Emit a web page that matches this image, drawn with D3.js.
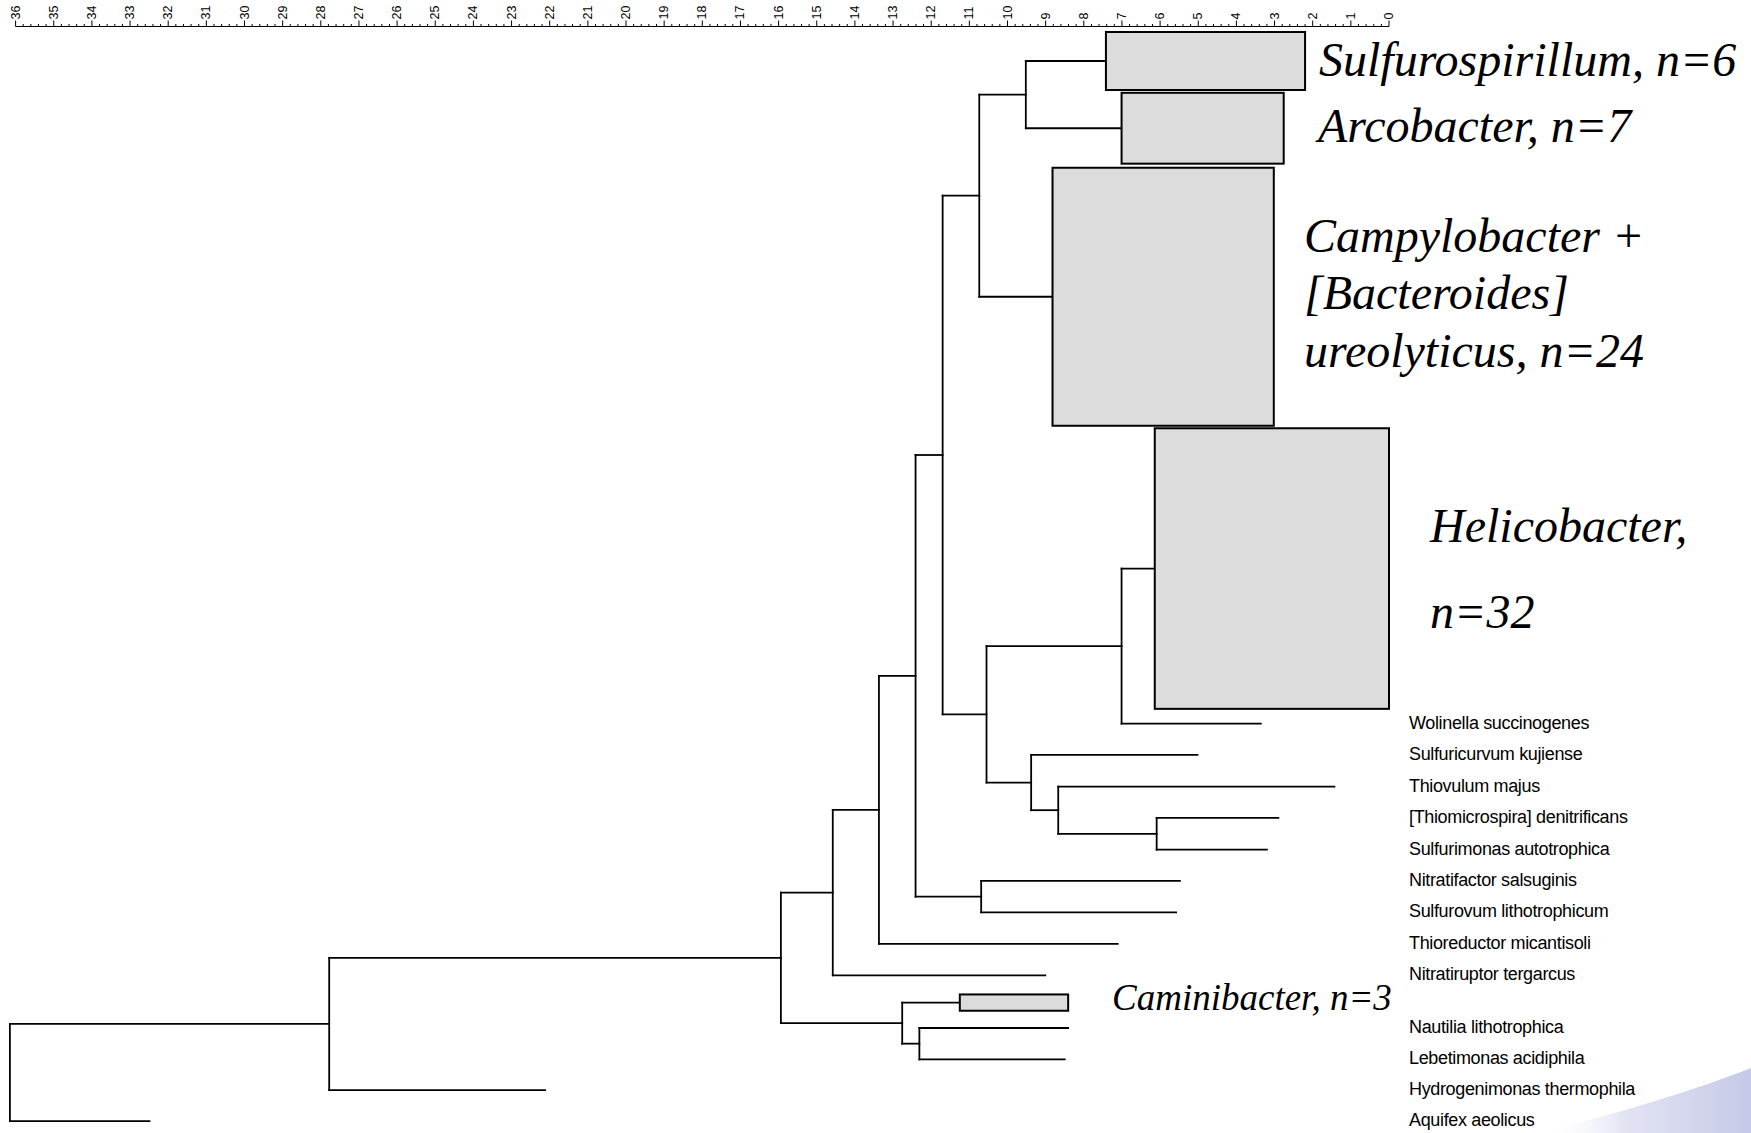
<!DOCTYPE html>
<html><head><meta charset="utf-8">
<script src="https://cdn.jsdelivr.net/npm/d3@7"></script>
<style>body{margin:0;background:#fff}svg{display:block}</style>
</head><body>
<svg id="chart" width="1751" height="1133"></svg>
<script>
// ---------------- data ----------------
const leafNames = ["Sulfurospirillum","Arcobacter","Campylobacter","Helicobacter",
  "Wolinella succinogenes","Sulfuricurvum kujiense","Thiovulum majus","[Thiomicrospira] denitrificans",
  "Sulfurimonas autotrophica","Nitratifactor salsuginis","Sulfurovum lithotrophicum","Thioreductor micantisoli",
  "Nitratiruptor tergarcus","Caminibacter","Nautilia lithotrophica","Lebetimonas acidiphila",
  "Hydrogenimonas thermophila","Aquifex aeolicus"];
// tip (right end) of each leaf / collapsed clade, in axis units
const leafEnd = [2.20, 2.76, 3.02, 0.00, 3.36, 5.02, 1.43, 2.90, 3.20, 5.48, 5.58, 7.11, 9.01, 8.41, 8.41, 8.50, 22.12, 32.49];
// crown depth of collapsed clades (null = single taxon)
const cladeStart = [7.42, 7.01, 8.82, 6.14, null, null, null, null, null, null, null, null, null, 11.25, null, null, null, null];
// vertical extent of each tip, in row units
const leafRowTop    = [0.00, 1.94, 4.33, 12.64, 22.06, 23.06, 24.07, 25.07, 26.08, 27.08, 28.08, 29.09, 30.09, 30.70, 31.77, 32.77, 33.75, 34.74];
const leafRowBottom = [1.85, 4.20, 12.56, 21.59, 22.06, 23.06, 24.07, 25.07, 26.08, 27.08, 28.08, 29.09, 30.09, 31.22, 31.77, 32.77, 33.75, 34.74];
// internal nodes
const nodeNames   = ["root","n1","n2","n3","n4","n5","n6","n7","n8","n9","n10","n11","n12","n13","n14","n15","n16"];
const nodeHeights = [36.15, 27.78, 15.94, 14.58, 13.37, 12.41, 11.70, 10.74, 9.52, 10.55, 7.01, 9.38, 8.67, 6.09, 10.69, 12.76, 12.31];
const nodeChildren = [
  ["n1","Aquifex aeolicus"],
  ["n2","Hydrogenimonas thermophila"],
  ["n3","n15"],
  ["n4","Nitratiruptor tergarcus"],
  ["n5","Thioreductor micantisoli"],
  ["n6","n14"],
  ["n7","n9"],
  ["n8","Campylobacter"],
  ["Sulfurospirillum","Arcobacter"],
  ["n10","n11"],
  ["Helicobacter","Wolinella succinogenes"],
  ["Sulfuricurvum kujiense","n12"],
  ["Thiovulum majus","n13"],
  ["[Thiomicrospira] denitrificans","Sulfurimonas autotrophica"],
  ["Nitratifactor salsuginis","Sulfurovum lithotrophicum"],
  ["Caminibacter","n16"],
  ["Nautilia lithotrophica","Lebetimonas acidiphila"]
];
const cladeLabelText = {
  "Sulfurospirillum": ["Sulfurospirillum, n=6"],
  "Arcobacter": ["Arcobacter, n=7"],
  "Campylobacter": ["Campylobacter +","[Bacteroides]","ureolyticus, n=24"],
  "Helicobacter": ["Helicobacter,","n=32"],
  "Caminibacter": ["Caminibacter, n=3"]
};
const axisTicks = [36,35,34,33,32,31,30,29,28,27,26,25,24,23,22,21,20,19,18,17,16,15,14,13,12,11,10,9,8,7,6,5,4,3,2,1,0];

// ---------------- layout / style ----------------
const cladeLabelPos = {
  "Sulfurospirillum": {x:1319, y:[76], size:48},
  "Arcobacter": {x:1318, y:[142], size:48},
  "Campylobacter": {x:1304, y:[252,309,367], size:48},
  "Helicobacter": {x:1430, y:[542,628], size:48},
  "Caminibacter": {x:1112, y:[1010], size:37}
};
const svg = d3.select("#chart");
const x = d3.scaleLinear().domain([36, 0]).range([15.6, 1389]);
const y = d3.scaleLinear().domain([0, 1]).range([32, 63.35]);
const axisY = 26.5;
const labelX = 1409;

// decoration wedge
const defs = svg.append("defs");
const grad = defs.append("linearGradient").attr("id","wedge").attr("x1","0").attr("x2","1").attr("y1","0").attr("y2","0");
grad.append("stop").attr("offset","0%").attr("stop-color","#ffffff").attr("stop-opacity",0);
grad.append("stop").attr("offset","40%").attr("stop-color","#e2e4f3");
grad.append("stop").attr("offset","100%").attr("stop-color","#c6c9e7");
svg.append("path").attr("d","M1540,1133 C1620,1113 1695,1090 1751,1068 L1751,1133 Z").attr("fill","url(#wedge)");

// build hierarchy
const nodeIndex = new Map(nodeNames.map((n,i)=>[n,i]));
const leafIndex = new Map(leafNames.map((n,i)=>[n,i]));
function build(name){
  if (nodeIndex.has(name)) {
    const i = nodeIndex.get(name);
    return {name, height: nodeHeights[i], children: nodeChildren[i].map(build)};
  }
  return {name, leaf: leafIndex.get(name)};
}
const root = d3.hierarchy(build("root"));
root.eachAfter(d => {
  if (!d.children) {
    const i = d.data.leaf;
    d.yy = y((leafRowTop[i] + leafRowBottom[i]) / 2);
  } else {
    d.yy = (d.children[0].yy + d.children[d.children.length-1].yy) / 2;
  }
});
function startDepth(d){
  if (d.children) return d.data.height;
  const i = d.data.leaf;
  return cladeStart[i] != null ? cladeStart[i] : leafEnd[i];
}

const gTree = svg.append("g").attr("fill","none").attr("stroke","#000").attr("stroke-width",1.8).attr("stroke-linecap","square");
// vertical connectors
root.descendants().filter(d=>d.children).forEach(d=>{
  gTree.append("line")
    .attr("x1", x(d.data.height)).attr("x2", x(d.data.height))
    .attr("y1", d.children[0].yy).attr("y2", d.children[d.children.length-1].yy);
});
// horizontal branches
root.descendants().filter(d=>d.parent).forEach(d=>{
  gTree.append("line")
    .attr("x1", x(d.parent.data.height)).attr("x2", x(startDepth(d)))
    .attr("y1", d.yy).attr("y2", d.yy);
});
// collapsed clade boxes
root.leaves().filter(d=>cladeStart[d.data.leaf] != null).forEach(d=>{
  const i = d.data.leaf;
  svg.append("rect")
    .attr("x", x(cladeStart[i])).attr("y", y(leafRowTop[i]))
    .attr("width", x(leafEnd[i]) - x(cladeStart[i]))
    .attr("height", y(leafRowBottom[i]) - y(leafRowTop[i]))
    .attr("fill","#dcdcdc").attr("stroke","#000").attr("stroke-width",2);
});
// species labels
root.leaves().filter(d=>cladeStart[d.data.leaf] == null).forEach(d=>{
  svg.append("text")
    .attr("x", labelX).attr("y", d.yy - 1)
    .attr("dominant-baseline","central")
    .attr("font-family","'Liberation Sans', Arial, sans-serif")
    .attr("font-size", 18).attr("letter-spacing", "-0.35px")
    .attr("fill","#000")
    .text(d.data.name);
});
// clade labels
Object.keys(cladeLabelText).forEach(k=>{
  const p = cladeLabelPos[k];
  cladeLabelText[k].forEach((line, j)=>{
    svg.append("text")
      .attr("x", p.x).attr("y", p.y[j])
      .attr("font-family","'Liberation Serif', 'Times New Roman', serif")
      .attr("font-style","italic").attr("font-size", p.size)
      .attr("fill","#000")
      .text(line);
  });
});

// axis
const gA = svg.append("g").attr("transform", `translate(0,${axisY})`).attr("stroke","#000").attr("stroke-width",1);
gA.append("line").attr("x1", x(36)).attr("x2", x(0)).attr("y1",0).attr("y2",0);
const minor = d3.range(0, 180).map(k => k/5).filter(v => Math.abs(v - Math.round(v)) > 1e-6);
gA.selectAll("line.minor").data(minor).join("line").attr("class","minor")
  .attr("x1", d=>x(d)).attr("x2", d=>x(d)).attr("y1",0).attr("y2",-2.5);
gA.selectAll("line.major").data(axisTicks).join("line").attr("class","major")
  .attr("x1", d=>x(d)).attr("x2", d=>x(d)).attr("y1",0).attr("y2",-6);
svg.append("g").selectAll("text").data(axisTicks).join("text")
  .attr("transform", d=>`translate(${x(d)},${axisY-7}) rotate(-90)`)
  .attr("text-anchor","start").attr("dominant-baseline","central")
  .attr("font-family","'Liberation Sans', Arial, sans-serif").attr("font-size", 12.5)
  .attr("fill","#000")
  .text(d=>d);
</script>
</body></html>
